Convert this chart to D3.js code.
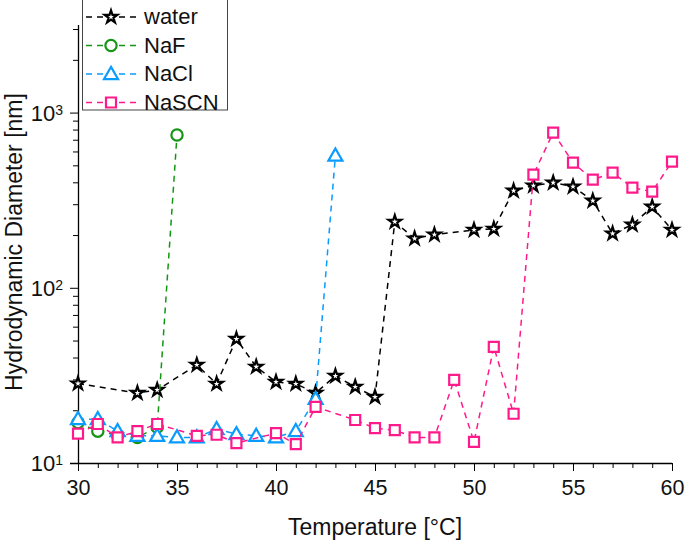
<!DOCTYPE html>
<html>
  <head>
    <meta charset="utf-8">
    <script type="text/javascript" src="https://d3js.org/d3.v7.min.js"></script>
    <style>
        body { margin:0; background:#fff; }
        svg { display:block; font-family:"Liberation Sans", Arial, sans-serif; }
    </style>
  </head>
  <body>
    <script type="text/javascript">
      // temperatures (degC) and hydrodynamic diameters (nm) per series
      var waterT = [30, 33, 34, 36, 37, 38, 39, 40, 41, 42, 43, 44, 45, 46, 47, 48, 50, 51, 52, 53, 54, 55, 56, 57, 58, 59, 60];
      var waterD = [28.4, 25.1, 26.1, 36.3, 28.3, 51, 35.4, 29, 28.3, 25.1, 31.4, 27.2, 23.8, 238, 191, 201, 214, 217, 358, 383, 398, 378, 314, 204, 229, 290, 214];

      var nafT = [30, 31, 32, 33, 34, 35];
      var nafD = [17, 15.2, 14.4, 14.0, 16.0, 745];

      var naclT = [30, 31, 32, 33, 34, 35, 36, 37, 38, 39, 40, 41, 42, 43];
      var naclD = [17.8, 17.8, 15.2, 14.3, 14.3, 14.0, 14.0, 15.6, 14.6, 14.3, 14.0, 15.2, 23.2, 568];

      var nascnT = [30, 31, 32, 33, 34, 36, 37, 38, 40, 41, 42, 44, 45, 46, 47, 48, 49, 50, 51, 52, 53, 54, 55, 56, 57, 58, 59, 60];
      var nascnD = [14.7, 16.7, 14.0, 15.2, 16.7, 14.3, 14.5, 13.0, 14.8, 12.8, 20.9, 17.6, 15.8, 15.4, 14.0, 14.0, 29.8, 13.2, 46, 19.1, 442, 769, 518, 414, 454, 373, 354, 525];

      var seriesNames = ["water", "NaF", "NaCl", "NaSCN"];
      var xTicks = [30, 35, 40, 45, 50, 55, 60];
      var yMajor = [10, 100, 1000];

      var width = 685, height = 540;
      var svg = d3.select("body").append("svg")
          .attr("width", width).attr("height", height);

      var x = d3.scaleLinear().domain([30, 60]).range([78, 672]);
      var y = d3.scaleLog().domain([10, 3000]).range([463, 29]);

      var series = [
        {name: seriesNames[0], t: waterT, d: waterD, color: "#000000", sym: d3.symbolStar, size: 50},
        {name: seriesNames[1], t: nafT, d: nafD, color: "#149614", sym: d3.symbolCircle, size: 100},
        {name: seriesNames[2], t: naclT, d: naclD, color: "#0a9bff", sym: d3.symbolTriangle, size: 85},
        {name: seriesNames[3], t: nascnT, d: nascnD, color: "#ff1a8c", sym: d3.symbolSquare, size: 100}
      ];

      // axes
      var minorX = d3.range(30, 61);
      svg.append("g")
          .attr("transform", "translate(0,463)")
          .call(d3.axisBottom(x).tickValues(minorX).tickSize(5).tickFormat(""))
          .call(function(g){ g.select(".domain").remove(); });
      svg.append("g")
          .attr("transform", "translate(0,463)")
          .call(d3.axisBottom(x).tickValues(xTicks).tickSize(8).tickSizeOuter(0).tickPadding(9))
          .call(function(g){
            g.select(".domain").attr("d", "M70,0.5H672").attr("stroke-width", 1.3);
            g.selectAll("text").attr("font-size", 21.5).attr("fill", "#111");
          });

      var minorY = [];
      [10, 100, 1000].forEach(function(b){
        for (var k = 2; k <= 9; k++) if (b * k <= 3000) minorY.push(b * k);
      });
      svg.append("g")
          .attr("transform", "translate(78,0)")
          .call(d3.axisLeft(y).tickValues(minorY).tickSize(5).tickFormat(""))
          .call(function(g){ g.select(".domain").remove(); });
      var yax = svg.append("g")
          .attr("transform", "translate(78,0)")
          .call(d3.axisLeft(y).tickValues(yMajor).tickSize(8).tickSizeOuter(0).tickFormat(""))
          .call(function(g){
            g.select(".domain").attr("d", "M0.5,25V463").attr("stroke-width", 1.3);
          });
      yax.selectAll(".tick").append("text")
          .attr("x", -15).attr("dy", "0.36em")
          .attr("text-anchor", "end")
          .attr("fill", "#111")
          .attr("font-size", 22)
          .each(function(d){
            var t = d3.select(this);
            t.append("tspan").text("10");
            t.append("tspan").attr("dy", "-0.45em").attr("font-size", 14).text(Math.round(Math.log10(d)));
          });

      svg.append("text")
          .attr("x", 375).attr("y", 535)
          .attr("text-anchor", "middle")
          .attr("font-size", 23).attr("fill", "#111")
          .text("Temperature [°C]");
      svg.append("text")
          .attr("transform", "translate(22,242) rotate(-90)")
          .attr("text-anchor", "middle")
          .attr("font-size", 23).attr("fill", "#111")
          .text("Hydrodynamic Diameter [nm]");

      // lines and markers
      var line = d3.line()
          .x(function(p){ return x(p[0]); })
          .y(function(p){ return y(p[1]); });

      series.forEach(function(s){
        var pts = s.t.map(function(t, i){ return [t, s.d[i]]; });
        var g = svg.append("g");
        g.append("path")
            .attr("d", line(pts))
            .attr("fill", "none")
            .attr("stroke", s.color)
            .attr("stroke-width", 1.5)
            .attr("stroke-dasharray", "6,5");
        g.selectAll(".m")
          .data(pts)
          .enter().append("path")
            .attr("class", "m")
            .attr("transform", function(p){
              var dy = s.sym === d3.symbolTriangle ? 1 : 0;
              return "translate(" + x(p[0]) + "," + (y(p[1]) + dy) + ")";
            })
            .attr("d", d3.symbol().type(s.sym).size(s.size))
            .attr("fill", "#fff")
            .attr("stroke", s.color)
            .attr("stroke-width", 2.2);
      });

      // legend
      var lg = svg.append("g");
      lg.append("rect")
          .attr("x", 82.5).attr("y", -1).attr("width", 145).attr("height", 111)
          .attr("fill", "#fff").attr("stroke", "#444").attr("stroke-width", 1);
      series.forEach(function(s, i){
        var cy = 17 + i * 28.5;
        lg.append("line")
            .attr("x1", 86).attr("x2", 140).attr("y1", cy).attr("y2", cy)
            .attr("stroke", s.color).attr("stroke-width", 1.5)
            .attr("stroke-dasharray", "6,5");
        lg.append("path")
            .attr("transform", "translate(111," + (cy + (s.sym === d3.symbolTriangle ? 1 : 0)) + ")")
            .attr("d", d3.symbol().type(s.sym).size(s.size))
            .attr("fill", "#fff")
            .attr("stroke", s.color)
            .attr("stroke-width", 2.2);
        lg.append("text")
            .attr("x", 144).attr("y", cy).attr("dy", "0.34em")
            .attr("font-size", 22).attr("fill", "#111")
            .text(s.name);
      });
    </script>
  </body>
</html>
